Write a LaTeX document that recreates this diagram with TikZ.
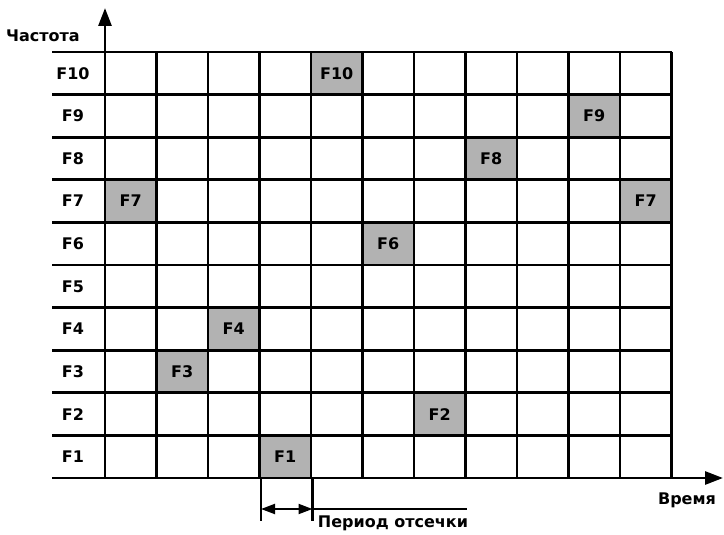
\documentclass[tikz,border=0pt]{standalone}
\usepackage{fontspec}
\setmainfont{DejaVu Sans}
\usetikzlibrary{arrows.meta, positioning}

\begin{document}
\begin{tikzpicture}[x=1pt, y=-1pt, line width=2.8pt,
  lbl/.style={font=\fontsize{16}{19}\selectfont\bfseries},
  hop/.style={fill=black!30},
  tip/.style={-{Triangle[length=18pt,width=13pt]}}]
\useasboundingbox (0,0) rectangle (724,535);

% Shaded cells: column / row (from top) / frequency
\foreach \c/\r/\t in {0/3/F7, 1/7/F3, 2/6/F4, 3/9/F1, 4/0/F10, 5/4/F6, 6/8/F2, 7/2/F8, 9/1/F9, 10/3/F7} {
  \fill[hop] ({105+51.5*\c},{52+42.6*\r}) rectangle ++(51.5,42.6);
  \node[lbl] (hop\c) at ({105+51.5*(\c+0.5)},{52+42.6*(\r+0.5)}) {\t};
}

% Grid
\foreach \j in {0,...,9} {
  \draw (52,{52+42.6*\j}) -- (671.5,{52+42.6*\j});
}
\foreach \k in {1,...,11} {
  \draw ({105+51.5*\k},52) -- ({105+51.5*\k},478);
}

% Frequency labels
\foreach \j/\t in {0/F10, 1/F9, 2/F8, 3/F7, 4/F6, 5/F5, 6/F4, 7/F3, 8/F2, 9/F1} {
  \node[lbl] (freq\j) at (73,{52+42.6*(\j+0.5)}) {\t};
}

% Axes
\coordinate (origin) at (105,478);
\coordinate (ytop) at (105,8);
\coordinate (xleft) at (52,478);
\coordinate (xright) at (723,478);
\draw[tip] (origin) -- (ytop);
\draw[tip] (xleft) -- (xright);
\node[lbl] (ylabel) at (43,36) {Частота};
\node[lbl] (xlabel) at (687,500) {Время};

% Cut-off period
\coordinate (pa) at (261,478);
\coordinate (pb) at (312.5,478);
\coordinate (pa2) at (261,521);
\coordinate (pb2) at (312.5,521);
\draw (pa) -- (pa2);
\draw (pb) -- (pb2);
\coordinate (da) at (261,509);
\coordinate (db) at (312.5,509);
\coordinate (dc) at (467,509);
\draw[line width=2pt, {Triangle[length=14pt,width=10pt]}-{Triangle[length=14pt,width=10pt]}] (da) -- (db);
\draw[line width=2pt] (db) -- (dc);
\node[lbl] (period) at (393,523) {Период отсечки};
\end{tikzpicture}
\end{document}
